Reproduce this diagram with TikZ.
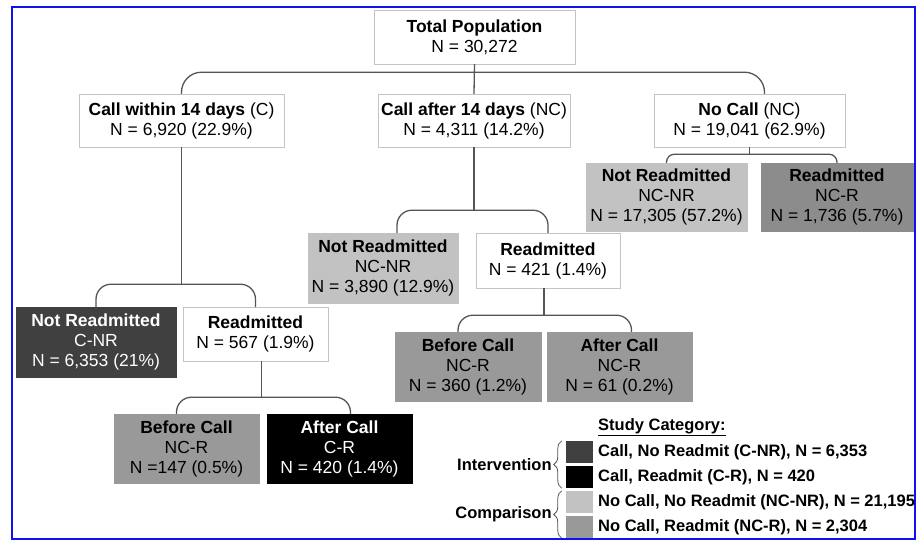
\documentclass[tikz,border=0pt]{standalone}
\usepackage{fontspec}
\setmainfont{Liberation Sans}
\usetikzlibrary{calc,decorations.pathreplacing}

\definecolor{boxline}{HTML}{C4C4C4}
\definecolor{linkgray}{HTML}{555555}
\definecolor{cnrfill}{HTML}{404040}
\definecolor{crfill}{HTML}{000000}
\definecolor{ncnrfill}{HTML}{C2C2C2}
\definecolor{ncrfill}{HTML}{999999}
\definecolor{ncrdark}{HTML}{8C8C8C}
\definecolor{frameblue}{HTML}{1010F0}

\begin{document}
\begin{tikzpicture}[x=1pt, y=-1pt,
  box/.style={draw=boxline, fill=white, align=center, inner sep=2pt,
    font=\fontsize{17.5}{20}\selectfont},
  link/.style={draw=linkgray, line width=1.3pt, rounded corners=15pt},
  lgtext/.style={font=\fontsize{16.5}{19}\selectfont\bfseries, inner sep=0pt},
  swatch/.style={minimum width=27, minimum height=22, inner sep=0pt},
  brace/.style={decorate, decoration={brace, amplitude=8pt}, line width=0.8pt, draw=linkgray}]
  \useasboundingbox (0,0) rectangle (919,541);
  \draw[frameblue, line width=2pt] (12,6.5) rectangle (915,539);

  % niveau 1
  \node[box, minimum width=201, minimum height=54] (tot) at (474.5,37)
    {\textbf{Total Population}\\N = 30,272};
  % niveau 2
  \node[box, minimum width=205, minimum height=53] (cwithin) at (181.5,120.5)
    {\textbf{Call within 14 days} (C)\\N = 6,920 (22.9\%)};
  \node[box, minimum width=192, minimum height=53] (cafter) at (474,120.5)
    {\textbf{Call after 14 days} (NC)\\N = 4,311 (14.2\%)};
  \node[box, minimum width=191, minimum height=53] (nocall) at (749.5,120.5)
    {\textbf{No Call} (NC)\\N = 19,041 (62.9\%)};
  % sous No Call
  \node[box, draw=ncnrfill, fill=ncnrfill, minimum width=161, minimum height=68] (nonr) at (666.5,197)
    {\textbf{Not Readmitted}\\NC-NR\\N = 17,305 (57.2\%)};
  \node[box, draw=ncrdark, fill=ncrdark, minimum width=152, minimum height=68] (nor) at (837,197)
    {\textbf{Readmitted}\\NC-R\\N = 1,736 (5.7\%)};
  % sous Call after
  \node[box, draw=ncnrfill, fill=ncnrfill, minimum width=150, minimum height=70] (anr) at (383,268)
    {\textbf{Not Readmitted}\\NC-NR\\N = 3,890 (12.9\%)};
  \node[box, minimum width=144, minimum height=55] (ar) at (548,260.5)
    {\textbf{Readmitted}\\N = 421 (1.4\%)};
  \node[box, draw=ncrfill, fill=ncrfill, minimum width=146, minimum height=69] (abc) at (468,366.5)
    {\textbf{Before Call}\\NC-R\\N = 360 (1.2\%)};
  \node[box, draw=ncrfill, fill=ncrfill, minimum width=145, minimum height=69] (aac) at (619.5,366.5)
    {\textbf{After Call}\\NC-R\\N = 61 (0.2\%)};
  % sous Call within
  \node[box, draw=cnrfill, fill=cnrfill, text=white, minimum width=160, minimum height=70] (wnr) at (96,342)
    {\textbf{Not Readmitted}\\C-NR\\N = 6,353 (21\%)};
  \node[box, minimum width=145, minimum height=54] (wr) at (255.5,334)
    {\textbf{Readmitted}\\N = 567 (1.9\%)};
  \node[box, draw=ncrfill, fill=ncrfill, minimum width=145, minimum height=69] (wbc) at (186.5,448.5)
    {\textbf{Before Call}\\NC-R\\N =147 (0.5\%)};
  \node[box, draw=crfill, fill=crfill, text=white, minimum width=145, minimum height=69] (wac) at (339.5,448.5)
    {\textbf{After Call}\\C-R\\N = 420 (1.4\%)};

  % liens
  \coordinate (j0) at ($(tot.south)+(0,8)$);
  \draw[link] (tot.south) -- (cafter.north);
  \draw[link, rounded corners=20pt] (cwithin.north) |- (j0) -| ($(nocall.north)+(15,0)$);
  \coordinate (j1) at ($(nocall.south)+(0,7)$);
  \draw[link] (nocall.south) -- (j1);
  \draw[link, rounded corners=8pt] (nonr.north) |- (j1) -| (nor.north);
  \coordinate (j2) at ($(cafter.south)+(0,63)$);
  \draw[link] (cafter.south) -- (j2);
  \draw[link] ($(anr.north)+(14,0)$) |- (j2) -| (ar.north);
  \coordinate (j3) at ($(ar.south)+(-4,27)$);
  \draw[link] (ar.south -| j3) -- (j3);
  \draw[link] ($(abc.north)+(-10,0)$) |- (j3) -| ($(aac.north)+(12,0)$);
  \coordinate (j4) at ($(cwithin.south)+(0,137)$);
  \draw[link] (cwithin.south) -- (j4);
  \draw[link] (wnr.north) |- (j4) -| (wr.north);
  \coordinate (j5) at ($(wr.south)+(6,36)$);
  \draw[link] (wr.south -| j5) -- (j5);
  \draw[link] ($(wbc.north)+(-10,0)$) |- (j5) -| ($(wac.north)+(11,0)$);

  % legende
  \node[lgtext, anchor=west] (lgtitle) at (598,427) {\underline{Study Category:}};
  \foreach \c/\t [count=\i] in {cnrfill/{Call, No Readmit (C-NR), N = 6,353},
      crfill/{Call, Readmit (C-R), N = 420},
      ncnrfill/{No Call, No Readmit (NC-NR), N = 21,195},
      ncrfill/{No Call, Readmit (NC-R), N = 2,304}} {
    \node[swatch, fill=\c] (sw\i) at (579.5,427+25*\i) {};
    \node[lgtext, anchor=west] (lg\i) at (598,427+25*\i) {\t};
  }
  \draw[brace] ($(sw2.south west)+(-4,0)$) -- ($(sw1.north west)+(-4,0)$);
  \draw[brace] ($(sw4.south west)+(-4,0)$) -- ($(sw3.north west)+(-4,0)$);
  \node[lgtext, anchor=east] (grp1) at ($(sw1.north west)!0.5!(sw2.south west)+(-14,0)$) {Intervention};
  \node[lgtext, anchor=east] (grp2) at ($(sw3.north west)!0.5!(sw4.south west)+(-14,0)$) {Comparison};
\end{tikzpicture}
\end{document}
